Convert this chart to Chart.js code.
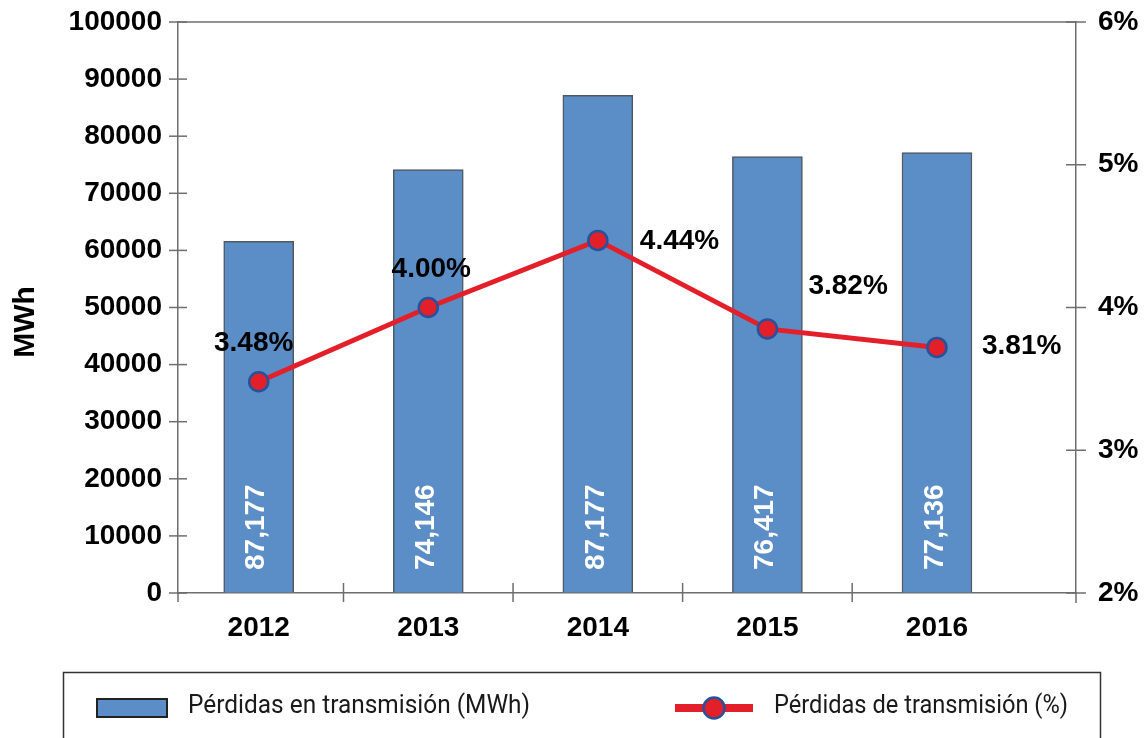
<!DOCTYPE html>
<html>
<head>
<meta charset="utf-8">
<script src="https://cdn.jsdelivr.net/npm/chart.js@4.4.1/dist/chart.umd.min.js"></script>
<style>
html,body{margin:0;padding:0;background:#fff;}
#wrap{width:1148px;height:738px;position:relative;}
</style>
</head>
<body>
<div id="wrap"><canvas id="c"></canvas></div>
<script>
// ---- data ----
const categories = ['2012', '2013', '2014', '2015', '2016'];
const lossesMWh = [61600, 74146, 87177, 76417, 77136];
const lossesMWhLabels = ['87,177', '74,146', '87,177', '76,417', '77,136'];
const lossesPct = [3.48, 4.00, 4.47, 3.85, 3.72];
const lossesPctLabels = ['3.48%', '4.00%', '4.44%', '3.82%', '3.81%'];
const seriesNames = ['Pérdidas en transmisión (MWh)', 'Pérdidas de transmisión (%)'];
const leftAxisTitle = 'MWh';

// ---- styles ----
const FONT = '"Liberation Sans", Arial, sans-serif';
const LEG_FONT = 'Roboto, "Liberation Sans", sans-serif';
const BAR_COLOR = '#5b8dc7';
const BAR_BORDER = '#505860';
const RED = '#e3202a';
const RING = '#24529e';
const AXIS = '#6e6e6e';

const pctLabelPlacement = [
  {dx: -5, dy: -38, align: 'center'},
  {dx: 3, dy: -38, align: 'center'},
  {dx: 42, dy: 1, align: 'left'},
  {dx: 41, dy: -43, align: 'left'},
  {dx: 45, dy: -1, align: 'left'}
];

function seg(ctx, x1, y1, x2, y2) {
  ctx.beginPath(); ctx.moveTo(x1, y1); ctx.lineTo(x2, y2); ctx.stroke();
}
function fitText(ctx, text, x, y, target) {
  const w = ctx.measureText(text).width;
  const sx = target / w;
  ctx.save();
  ctx.translate(x, y);
  ctx.scale(sx, 1);
  ctx.fillText(text, 0, 0);
  ctx.restore();
}

const decor = {
  id: 'decor',
  afterDatasetsDraw(chart) {
    const {ctx, chartArea: a} = chart;
    const bars = chart.getDatasetMeta(0).data;
    ctx.save();
    ctx.fillStyle = '#ffffff';
    ctx.font = 'bold 28px ' + FONT;
    ctx.textAlign = 'left';
    ctx.textBaseline = 'middle';
    bars.forEach((b, i) => {
      ctx.save();
      ctx.translate(b.x - 2, a.bottom - 23);
      ctx.rotate(-Math.PI / 2);
      ctx.fillText(lossesMWhLabels[i], 0, 0);
      ctx.restore();
    });
    ctx.restore();
    const pts = chart.getDatasetMeta(1).data;
    ctx.save();
    ctx.fillStyle = '#000';
    ctx.font = 'bold 28px ' + FONT;
    ctx.textBaseline = 'middle';
    pts.forEach((p, i) => {
      const pl = pctLabelPlacement[i];
      ctx.textAlign = pl.align;
      ctx.fillText(lossesPctLabels[i], p.x + pl.dx, p.y + pl.dy);
    });
    ctx.restore();
  },
  afterDraw(chart) {
    const {ctx, chartArea: a, scales: {x, y, y2}} = chart;
    ctx.save();
    ctx.strokeStyle = AXIS;
    ctx.lineWidth = 1.5;
    seg(ctx, a.left, a.top, a.right, a.top);
    y.ticks.forEach(t => { const py = y.getPixelForValue(t.value); seg(ctx, a.left - 9, py, a.left + 9, py); });
    y2.ticks.forEach(t => { const py = y2.getPixelForValue(t.value); seg(ctx, a.right - 10, py, a.right + 10, py); });
    for (let i = 0; i < categories.length - 1; i++) {
      const px = x.getPixelForValue(i + 0.5);
      seg(ctx, px, a.bottom - 10, px, a.bottom + 9);
    }
    seg(ctx, a.left, a.bottom, a.left, a.bottom + 9);
    seg(ctx, a.right, a.bottom, a.right, a.bottom + 10);
    ctx.restore();

    ctx.save();
    ctx.fillStyle = '#000';
    ctx.font = 'bold 30px ' + FONT;
    ctx.textAlign = 'center';
    ctx.textBaseline = 'middle';
    ctx.translate(26, 322);
    ctx.rotate(-Math.PI / 2);
    ctx.fillText(leftAxisTitle, 0, 0);
    ctx.restore();

    const ds = chart.data.datasets;
    ctx.save();
    ctx.strokeStyle = '#333';
    ctx.lineWidth = 1.5;
    ctx.strokeRect(63.5, 672.5, 1037, 100);
    ctx.fillStyle = ds[0].backgroundColor;
    ctx.fillRect(97, 699, 70, 18);
    ctx.strokeStyle = '#222';
    ctx.lineWidth = 2;
    ctx.strokeRect(97, 699, 70, 18);
    ctx.fillStyle = '#1a1a1a';
    ctx.font = '26px ' + LEG_FONT;
    ctx.textAlign = 'left';
    ctx.textBaseline = 'middle';
    fitText(ctx, ds[0].label, 188, 706, 342);
    ctx.strokeStyle = ds[1].borderColor;
    ctx.lineWidth = 8;
    seg(ctx, 675, 708, 753, 708);
    ctx.beginPath();
    ctx.arc(714, 708, 10.5, 0, Math.PI * 2);
    ctx.fillStyle = ds[1].pointBackgroundColor;
    ctx.fill();
    ctx.lineWidth = 2.5;
    ctx.strokeStyle = ds[1].pointBorderColor;
    ctx.stroke();
    ctx.fillStyle = '#1a1a1a';
    fitText(ctx, ds[1].label, 774, 706, 294);
    ctx.restore();
  }
};

const tickFont = {family: FONT, size: 28, weight: 'bold'};
const noPadV = s => { s.paddingTop = 0; s.paddingBottom = 0; };

new Chart(document.getElementById('c'), {
  type: 'bar',
  data: {
    datasets: [
      {
        type: 'bar',
        label: seriesNames[0],
        data: categories.map((c, i) => ({x: i, y: lossesMWh[i]})),
        backgroundColor: BAR_COLOR,
        borderColor: BAR_BORDER,
        borderWidth: 1.5,
        barThickness: 70,
        yAxisID: 'y',
        order: 2
      },
      {
        type: 'line',
        label: seriesNames[1],
        data: categories.map((c, i) => ({x: i, y: lossesPct[i]})),
        borderColor: RED,
        borderWidth: 5,
        pointBackgroundColor: RED,
        pointBorderColor: RING,
        pointBorderWidth: 2.5,
        pointRadius: 9.5,
        tension: 0,
        yAxisID: 'y2',
        order: 1
      }
    ]
  },
  options: {
    responsive: true,
    maintainAspectRatio: false,
    animation: false,
    layout: {padding: {top: 22, left: 0, right: 0, bottom: 0}},
    plugins: {legend: {display: false}, tooltip: {enabled: false}},
    scales: {
      x: {
        type: 'linear',
        position: 'bottom',
        min: -0.476,
        max: 4.82,
        offset: false,
        afterBuildTicks: s => { s.ticks = categories.map((c, i) => ({value: i})); },
        afterFit: s => { s.height = 145; s.paddingLeft = 0; s.paddingRight = 0; },
        grid: {display: true, drawOnChartArea: false, drawTicks: false},
        border: {display: true, color: AXIS, width: 1.5},
        ticks: {
          callback: v => categories[v],
          autoSkip: false, maxRotation: 0, padding: 18,
          font: tickFont, color: '#000'
        }
      },
      y: {
        type: 'linear',
        position: 'left',
        min: 0, max: 100000,
        afterFit: s => { s.width = 178; noPadV(s); },
        grid: {display: true, drawOnChartArea: false, drawTicks: false},
        border: {display: true, color: AXIS, width: 1.5},
        ticks: {stepSize: 10000, padding: 16, font: tickFont, color: '#000', callback: v => String(v)}
      },
      y2: {
        type: 'linear',
        position: 'right',
        min: 2, max: 6,
        afterFit: s => { s.width = 72; noPadV(s); },
        grid: {display: true, drawOnChartArea: false, drawTicks: false},
        border: {display: true, color: AXIS, width: 1.5},
        ticks: {stepSize: 1, padding: 22, font: tickFont, color: '#000', callback: v => v + '%'}
      }
    }
  },
  plugins: [decor]
});
</script>
</body>
</html>
